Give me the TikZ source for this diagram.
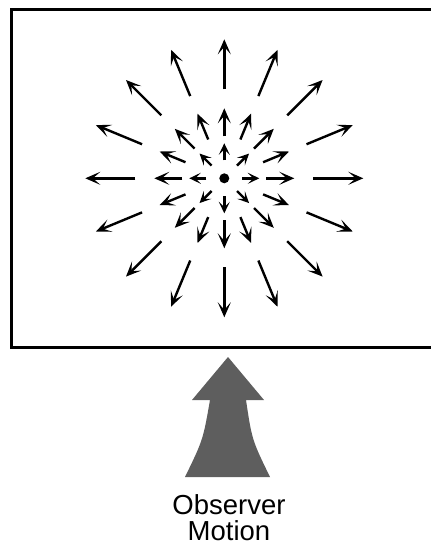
\documentclass[tikz,border=0pt]{standalone}
\usepackage{fontspec}
\setmainfont{Liberation Sans}
\usetikzlibrary{arrows.meta}
\tikzset{
  flowvec/.style={-{Stealth[length=15pt,width=13pt,inset=7.5pt]},line width=2.4pt,draw=black},
  shortvec/.style={flowvec,-{Stealth[length=11.5pt,width=11pt,inset=5.5pt]}},
  viewframe/.style={draw=black,line width=3pt},
  motionarrow/.style={fill=black!63,draw=none},
  caption/.style={font=\fontsize{27.5}{27}\selectfont,inner sep=0pt,anchor=base}
}

\begin{document}
\begin{tikzpicture}[x=1pt,y=-1pt]
\useasboundingbox (0,0) rectangle (431,544);
% field of view
\draw[viewframe] (11.5,9.5) rectangle (445,347);
\coordinate (foe) at (224.3,178.3);
\fill (foe) circle (5);
% flow vectors, three rings
\foreach \a in {0,45,...,315}
  \draw[shortvec,shift={(foe)}] (\a:18) -- (\a:35);
\foreach \a in {0,22.5,...,337.5}
  \draw[flowvec,shift={(foe)}] (\a:42) -- (\a:70);
\foreach \a in {0,22.5,...,337.5}
  \draw[flowvec,shift={(foe)}] (\a:89) -- (\a:139);
% heading
\fill[motionarrow] (228,357) -- (264,400) -- (246,400) .. controls (252,440) .. (270,477)
  -- (185,477) .. controls (203,440) .. (210,400) -- (192,400) -- cycle;
\node[caption] (obs) at (229,514) {Observer};
\node[caption] (mot) at (229,540) {Motion};
\end{tikzpicture}
\end{document}
